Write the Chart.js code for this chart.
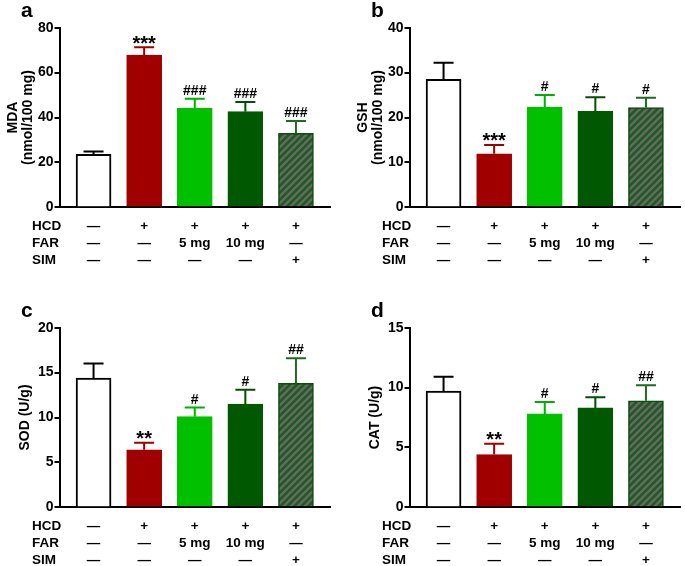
<!DOCTYPE html>
<html>
<head>
<meta charset="utf-8">
<title>Oxidative stress markers</title>
<script src="https://cdn.jsdelivr.net/npm/chart.js"></script>
<style>
  body { margin: 0; background: #fff; }
  .wrap { position: relative; width: 685px; height: 566px; overflow: hidden; }
  .panel { position: absolute; }
</style>
</head>
<body>
<div class="wrap">
  <canvas class="panel" id="chartA" width="335" height="266" style="left:0;top:0"></canvas>
  <canvas class="panel" id="chartB" width="335" height="266" style="left:350px;top:0"></canvas>
  <canvas class="panel" id="chartC" width="335" height="266" style="left:0;top:300px"></canvas>
  <canvas class="panel" id="chartD" width="335" height="266" style="left:350px;top:300px"></canvas>
</div>
<script>
// treatment table under each panel
const rowNames = ['HCD', 'FAR', 'SIM'];
const hcdRow = ['—', '+', '+', '+', '+'];
const farRow = ['—', '—', '5 mg', '10 mg', '—'];
const simRow = ['—', '—', '—', '—', '+'];

// mean and SEM per group
const mdaMean = [23.6, 67.8, 44.1, 42.6, 33.0];
const mdaSem = [1.2, 3.5, 4.3, 4.3, 5.4];
const mdaSig = ['', '***', '###', '###', '###'];

const gshMean = [28.5, 11.9, 22.3, 21.4, 22.2];
const gshSem = [3.7, 2.0, 2.7, 3.1, 2.2];
const gshSig = ['', '***', '#', '#', '#'];

const sodMean = [14.4, 6.4, 10.1, 11.5, 13.8];
const sodSem = [1.6, 0.8, 1.0, 1.6, 2.8];
const sodSig = ['', '**', '#', '#', '##'];

const catMean = [9.7, 4.4, 7.8, 8.3, 8.9];
const catSem = [1.2, 0.9, 1.0, 0.9, 1.3];
const catSig = ['', '**', '#', '#', '##'];

const FONT = "'Liberation Sans', Arial, sans-serif";
Chart.defaults.font.family = FONT;
Chart.defaults.color = '#000';

// dark green bar with grey diagonal stripes (SIM group)
function makeHatch() {
  const c = document.createElement('canvas');
  c.width = 7; c.height = 7;
  const g = c.getContext('2d');
  g.fillStyle = '#1c5c1c';
  g.fillRect(0, 0, 7, 7);
  g.strokeStyle = '#686868';
  g.lineWidth = 2.4;
  g.beginPath();
  g.moveTo(0, 7); g.lineTo(7, 0);
  g.moveTo(-3.5, 3.5); g.lineTo(3.5, -3.5);
  g.moveTo(3.5, 10.5); g.lineTo(10.5, 3.5);
  g.stroke();
  return g.createPattern(c, 'repeat');
}
const hatch = makeHatch();

const fills = ['#ffffff', '#a00000', '#00c000', '#005800', hatch];
const edges = ['#000000', '#a00000', '#00c000', '#005800', '#0c4c0c'];
const edgeW = [2, 1, 1, 1, 1.5];
const errColors = ['#000000', '#a00000', '#00b000', '#005000', '#1e6a1e'];

function drawPanel(id, letter, yTitle, mean, sem, sig, yMax, yStep, titlePad) {
  // error bars, significance marks, row names and panel letter
  const extras = {
    id: 'extras' + id,
    afterDatasetsDraw(chart) {
      const ctx = chart.ctx;
      const y = chart.scales.y;
      chart.getDatasetMeta(0).data.forEach((bar, i) => {
        const top = y.getPixelForValue(mean[i] + sem[i]);
        ctx.save();
        ctx.strokeStyle = errColors[i];
        ctx.lineWidth = 2;
        ctx.beginPath();
        ctx.moveTo(bar.x, bar.y);
        ctx.lineTo(bar.x, top);
        ctx.moveTo(bar.x - 10, top);
        ctx.lineTo(bar.x + 10, top);
        ctx.stroke();
        const m = sig[i];
        if (m) {
          ctx.fillStyle = '#000';
          ctx.textAlign = 'center';
          ctx.textBaseline = 'alphabetic';
          if (m[0] === '*') {
            ctx.font = 'bold 20px ' + FONT;
            ctx.fillText(m, bar.x, top + 2.5);
          } else {
            ctx.font = 'bold 14px ' + FONT;
            ctx.fillText(m, bar.x, top - 4);
          }
        }
        ctx.restore();
      });
    },
    afterDraw(chart) {
      const ctx = chart.ctx;
      const xs = chart.scales.x;
      ctx.save();
      ctx.fillStyle = '#000';
      ctx.textAlign = 'left';
      ctx.textBaseline = 'middle';
      ctx.font = 'bold 13.5px ' + FONT;
      rowNames.forEach((r, i) => ctx.fillText(r, 32, xs.top + 10 + 8.5 + i * 17));
      ctx.textBaseline = 'alphabetic';
      ctx.font = 'bold 21px ' + FONT;
      ctx.fillText(letter, 21, 16.5);
      ctx.restore();
    }
  };

  new Chart(document.getElementById(id), {
    type: 'bar',
    data: {
      datasets: [{
        data: mean.map((v, i) => ({ x: i, y: v })),
        backgroundColor: fills,
        borderColor: edges,
        borderWidth: edgeW,
        borderSkipped: 'bottom',
        barThickness: 35
      }]
    },
    options: {
      responsive: false,
      animation: false,
      layout: { padding: { left: 0, right: 5, top: 27.7, bottom: 1 } },
      plugins: { legend: { display: false }, tooltip: { enabled: false } },
      scales: {
        x: {
          type: 'linear', min: -0.673, max: 4.673, offset: false, z: 1,
          grid: { display: false, drawTicks: false, offset: false },
          border: { display: true, color: '#000', width: 2 },
          afterBuildTicks: s => { s.ticks = hcdRow.map((_, i) => ({ value: i })); },
          afterFit: s => { s.height = 57.7; },
          ticks: {
            autoSkip: false, maxRotation: 0, minRotation: 0, padding: 10, color: '#000',
            font: { size: 13.5, weight: 'bold', lineHeight: '17px' },
            callback: (v, i) => [hcdRow[i], farRow[i], simRow[i]]
          }
        },
        y: {
          min: 0, max: yMax, z: 1,
          afterFit: s => { s.width = 59.5; },
          border: { display: true, color: '#000', width: 2 },
          grid: { display: true, drawOnChartArea: false, drawTicks: true, tickLength: 5, color: '#000', lineWidth: 2 },
          ticks: { stepSize: yStep, padding: 1, color: '#000', font: { size: 14, weight: 'bold' } },
          title: {
            display: true, text: yTitle, color: '#000',
            font: { size: 14, weight: 'bold', lineHeight: '15px' },
            padding: { top: titlePad, bottom: 0 }
          }
        }
      }
    },
    plugins: [extras]
  });
}

drawPanel('chartA', 'a', ['MDA', '(nmol/100 mg)'], mdaMean, mdaSem, mdaSig, 80, 20, 5.5);
drawPanel('chartB', 'b', ['GSH', '(nmol/100 mg)'], gshMean, gshSem, gshSig, 40, 10, 5.5);
drawPanel('chartC', 'c', 'SOD (U/g)', sodMean, sodSem, sodSig, 20, 5, 18);
drawPanel('chartD', 'd', 'CAT (U/g)', catMean, catSem, catSig, 15, 5, 18);
</script>
</body>
</html>
